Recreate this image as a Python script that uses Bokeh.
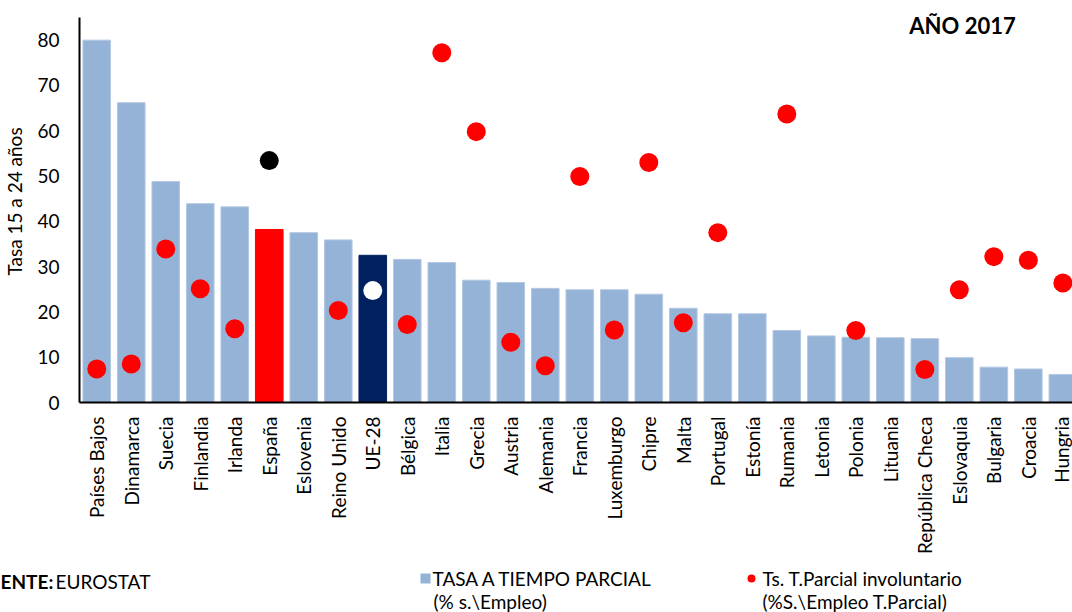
import numpy as np
from bokeh.plotting import figure
from bokeh.models import ColumnDataSource, Range1d, FixedTicker, Label
from bokeh.layouts import column
from bokeh.embed import file_html
from bokeh.resources import INLINE
from bokeh.core.properties import value

# ---------------- data ----------------
paises = ["Países Bajos", "Dinamarca", "Suecia", "Finlandia", "Irlanda", "España",
          "Eslovenia", "Reino Unido", "UE-28", "Bélgica", "Italia", "Grecia", "Austria",
          "Alemania", "Francia", "Luxemburgo", "Chipre", "Malta", "Portugal", "Estonía",
          "Rumania", "Letonia", "Polonia", "Lituania", "República Checa", "Eslovaquia",
          "Bulgaria", "Croacia", "Hungria"]

tasa_parcial = [80.0, 66.2, 48.8, 43.9, 43.2, 38.2, 37.5, 35.9, 32.5, 31.6, 30.9, 27.0,
                26.5, 25.2, 24.9, 24.9, 23.9, 20.8, 19.6, 19.6, 15.9, 14.7, 14.4, 14.3,
                14.1, 9.9, 7.8, 7.4, 6.2]

nan = float("nan")
parcial_involuntario = [7.4, 8.5, 33.9, 25.1, 16.3, 53.4, nan, 20.3, 24.7, 17.2, 77.2,
                        59.8, 13.3, 8.1, 49.9, 16.0, 53.0, 17.6, 37.5, nan, 63.7, nan,
                        15.9, nan, 7.3, 24.9, 32.2, 31.4, 26.4]

y_ticks = [0, 10, 20, 30, 40, 50, 60, 70, 80]

# ---------------- styling ----------------
FONT = "Lato"
BLUE = "#95B3D7"
bar_fill = {"España": "#FF0000", "UE-28": "#002060"}
dot_fill = {"España": "#000000", "UE-28": "#FFFFFF"}

xs = np.arange(len(paises))
src = ColumnDataSource(dict(
    x=xs,
    tasa=tasa_parcial,
    invol=np.array(parcial_involuntario, dtype=float),
    fill=[bar_fill.get(c, BLUE) for c in paises],
    line=[bar_fill.get(c, "#B4C8E2") for c in paises],
    dot=[dot_fill.get(c, "#FF0000") for c in paises],
))

W = 1072
MAIN_H, FOOT_H = 560, 52
LEFT = 79
FRAME_H = 402                       # frame: y 0..402 (page px)
X0, X1 = -0.5, 28.28
Y0, Y1 = 0, 88.75

p = figure(width=W, height=MAIN_H, output_backend="svg", toolbar_location=None,
           x_range=Range1d(X0, X1), y_range=Range1d(Y0, Y1),
           min_border_left=LEFT, min_border_right=0, min_border_top=0,
           min_border_bottom=MAIN_H - FRAME_H)
p.frame_align = False
p.outline_line_color = None
p.xgrid.visible = False
p.ygrid.visible = False
p.background_fill_color = "white"
p.border_fill_color = "white"

p.vbar(x="x", top="tasa", width=0.8, fill_color="fill", line_color="line",
       line_width=1, source=src)
p.scatter(x="x", y="invol", size=19, fill_color="dot", line_color=None, source=src)

# y axis
ya = p.yaxis[0]
ya.ticker = FixedTicker(ticks=y_ticks)
ya.bounds = (0, 85)
ya.axis_line_color = "black"
ya.axis_line_width = 2
ya.major_tick_line_color = None
ya.minor_tick_line_color = None
ya.major_label_text_font = FONT
ya.major_label_text_font_size = "19px"
ya.major_label_text_color = "black"
ya.major_label_standoff = 14
ya.axis_label = "Tasa 15 a 24 años"
ya.axis_label_text_font = FONT
ya.axis_label_text_font_size = "19px"
ya.axis_label_text_font_style = "normal"
ya.axis_label_text_color = "black"
ya.axis_label_standoff = 8

# x axis
xa = p.xaxis[0]
xa.ticker = FixedTicker(ticks=list(range(len(paises))))
xa.major_label_overrides = {i: c for i, c in enumerate(paises)}
xa.major_label_orientation = np.pi / 2
xa.axis_line_color = "black"
xa.axis_line_width = 2
xa.major_tick_line_color = None
xa.minor_tick_line_color = None
xa.major_label_text_font = FONT
xa.major_label_text_font_size = "19px"
xa.major_label_text_color = "black"
xa.major_label_standoff = 8

# title (inside the frame)
p.add_layout(Label(x=X0 + (962 - LEFT) * (X1 - X0) / (W - LEFT),
                   y=Y0 + (FRAME_H - 25) * (Y1 - Y0) / FRAME_H,
                   text="AÑO 2017", text_font=FONT, text_font_size="22px",
                   text_font_style="bold", text_align="center",
                   text_baseline="middle", text_color="black"))

# ---------------- footer (source + legend) ----------------
f = figure(width=W, height=FOOT_H, output_backend="svg", toolbar_location=None,
           x_range=Range1d(0, W), y_range=Range1d(FOOT_H, 0),
           x_axis_location=None, y_axis_location=None, min_border=0)
f.frame_align = False
f.outline_line_color = None
f.xgrid.visible = False
f.ygrid.visible = False
f.background_fill_color = "white"
f.border_fill_color = "white"

def txt(x, y, t, style="normal", size="19px"):
    f.text(x=[x], y=[y], text=[t], text_font=value(FONT), text_font_size=size,
           text_font_style=style, text_baseline="middle", text_align="left",
           text_color="black")

txt(0, 21, "ENTE:", "bold")
txt(55, 21, "EUROSTAT")
f.rect(x=[425], y=[18], width=10, height=10, fill_color=BLUE, line_color=None)
txt(432, 18, "TASA A TIEMPO PARCIAL")
txt(433, 41, "(% s.\\Empleo)")
f.scatter(x=[751], y=[18], size=8, fill_color="#FF0000", line_color=None)
txt(762, 18, "Ts. T.Parcial involuntario")
txt(762, 41, "(%S.\\Empleo T.Parcial)")

layout = column(p, f, spacing=0)
open("out.html", "w").write(file_html(layout, INLINE))
